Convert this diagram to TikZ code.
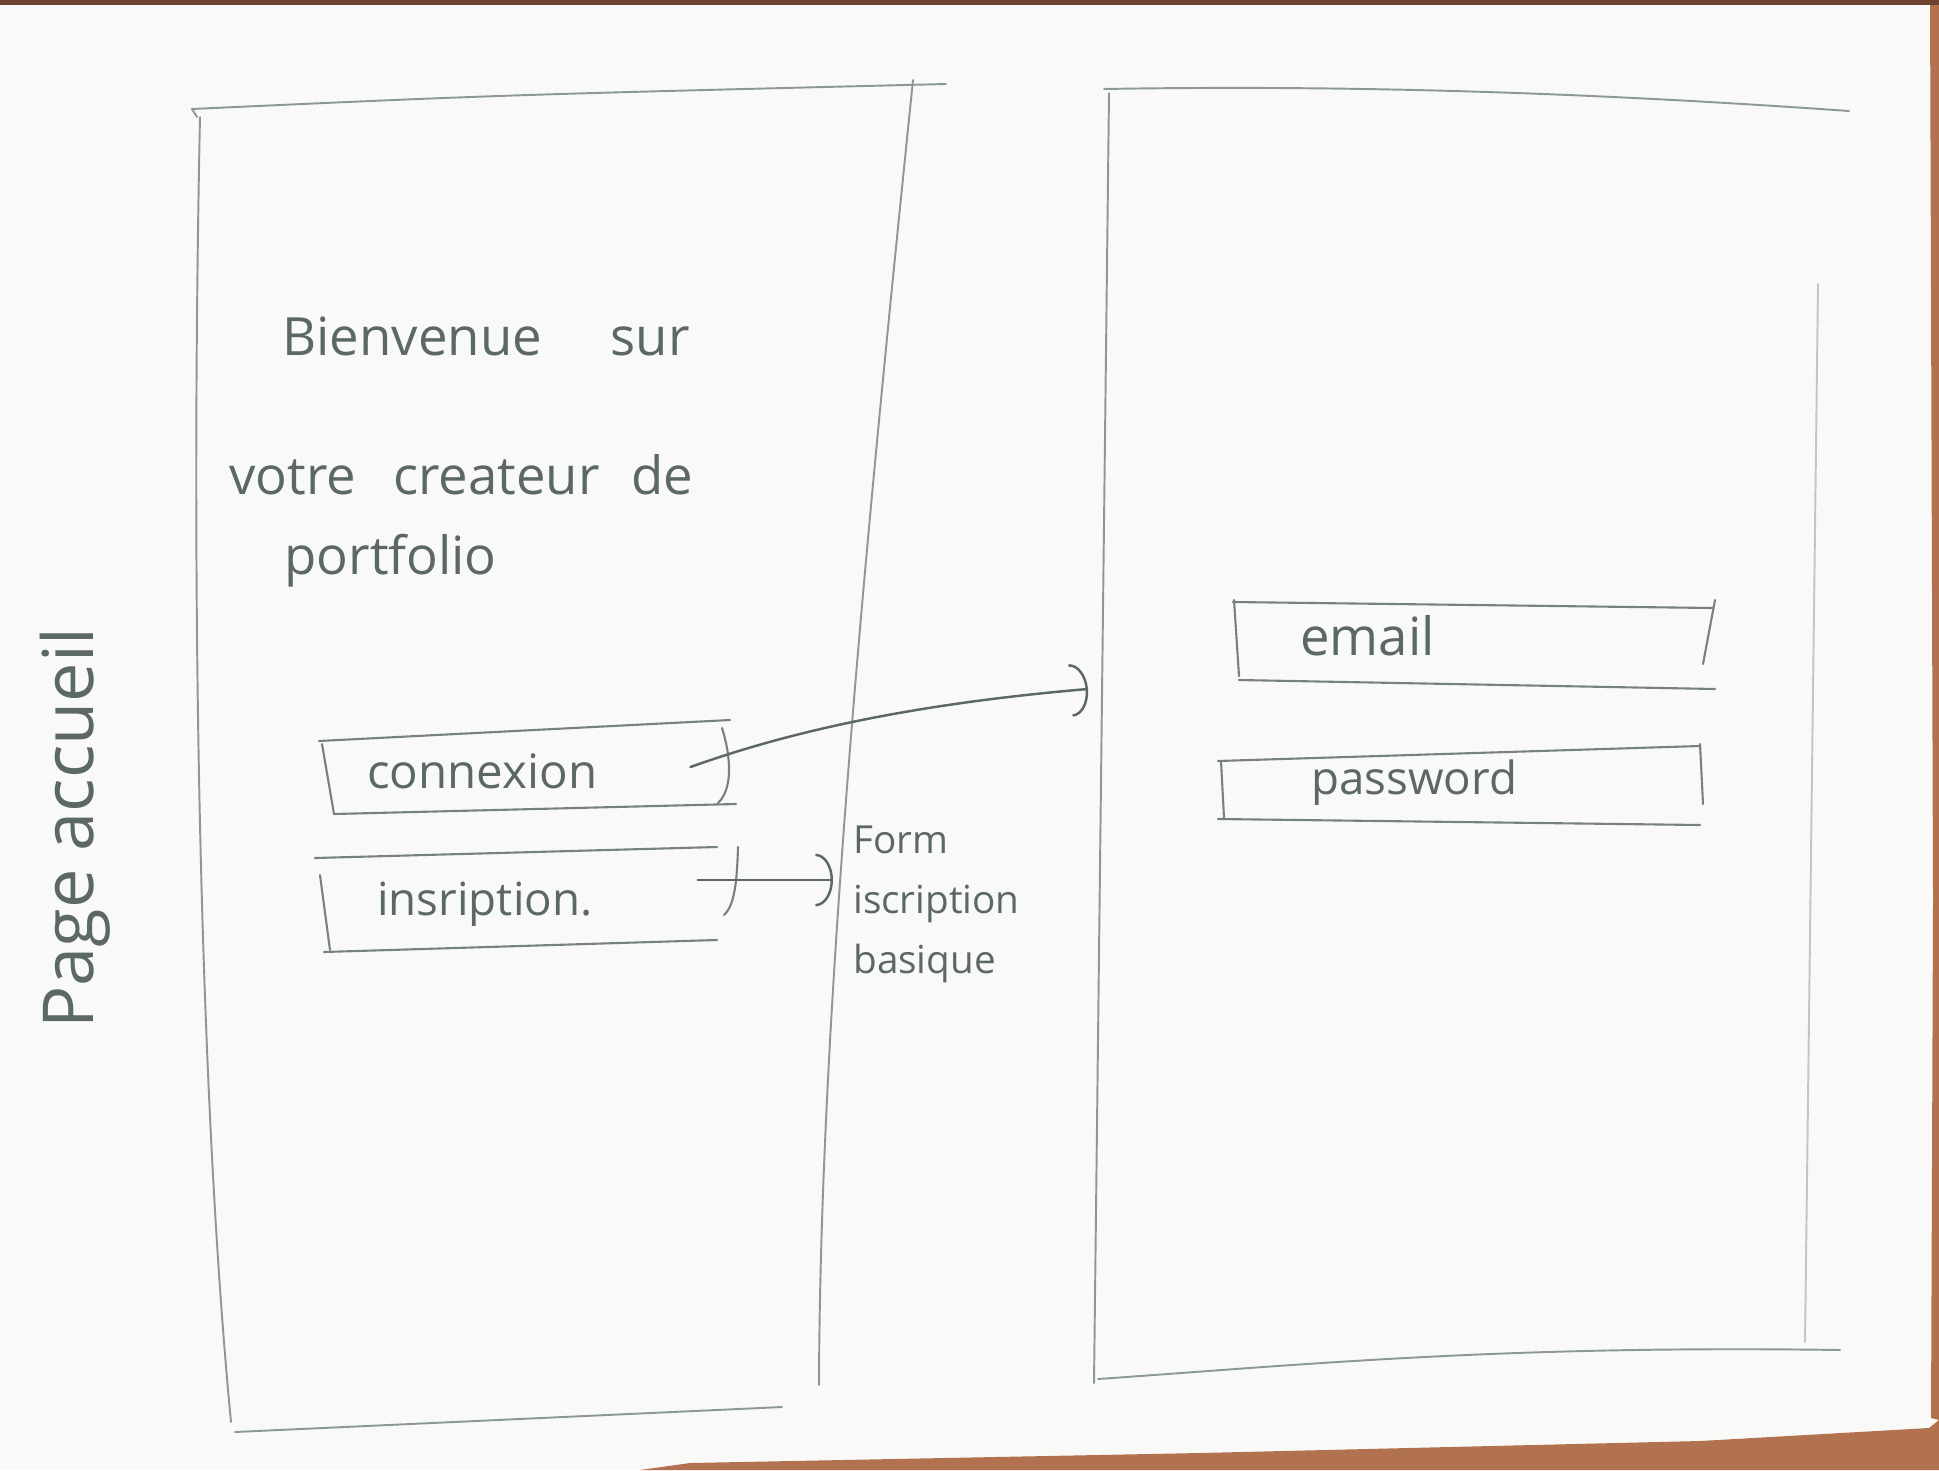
\documentclass[tikz,border=0pt]{standalone}
\usepackage{fontspec}
\setmainfont{Open Sans}
\usetikzlibrary{arrows.meta,calc}
\definecolor{paper}{RGB}{249,250,248}
\definecolor{pencil}{RGB}{140,152,148}
\definecolor{lead}{RGB}{92,104,100}
\definecolor{wood}{RGB}{178,114,80}
\definecolor{wooddark}{RGB}{110,66,48}

\begin{document}
\begin{tikzpicture}[x=0.02cm,y=-0.02cm,
  frame/.style={draw=pencil, line width=1.1pt, line cap=round, line join=round},
  field/.style={draw=pencil!85!black, line width=1.2pt, line cap=round},
  hand/.style={text=lead, inner sep=0pt},
  link/.style={draw=lead, line width=1.4pt, line cap=round,
    -{Arc Barb[length=10pt,width=30pt,line width=1.4pt]}},
]
\useasboundingbox (0,0) rectangle (1939,1470);
\fill[paper] (0,0) rectangle (1939,1470);

% table showing around the sheet
\fill[wood] (640,1470) -- (690,1463) -- (1200,1453) -- (1700,1441) -- (1929,1428)
  -- (1939,1420) -- (1939,1470) -- cycle;
\fill[wood] (1930,0) -- (1939,0) -- (1939,1420) -- (1931,1418) -- (1933,900) -- cycle;
\fill[wooddark] (0,0) rectangle (1939,5);

% ---------- home screen ----------
\draw[frame] (197,117) -- (192,109) .. controls (500,95) .. (946,84);
\draw[frame] (200,117) .. controls (190,600) and (200,1100) .. (231,1422);
\draw[frame] (235,1432) -- (782,1407);
\draw[frame] (913,80) .. controls (870,500) and (820,1000) .. (819,1385);

\node[hand, anchor=base west, font=\fontsize{30}{34}\selectfont] (title1) at (282,355)
  {Bienvenue\hspace{1.3em}sur};
\node[hand, anchor=base west, font=\fontsize{30}{34}\selectfont] (title2) at (229,494)
  {votre\hspace{0.7em}createur\hspace{0.6em}de};
\node[hand, anchor=base west, font=\fontsize{30}{34}\selectfont] (title3) at (284,574)
  {portfolio};

% login button
\draw[field] (319,741) -- (730,720);
\draw[field] (322,744) -- (334,814);
\draw[field] (334,814) -- (736,804);
\draw[field] (722,728) .. controls (732,760) and (732,790) .. (718,803);
\node[hand, anchor=base west, font=\fontsize{27}{30}\selectfont] (cnx) at (367,788) {connexion};

% sign-up button
\draw[field] (315,858) -- (717,847);
\draw[field] (320,875) -- (330,950);
\draw[field] (324,952) -- (717,940);
\draw[field] (738,847) .. controls (737,880) and (735,905) .. (724,915);
\node[hand, anchor=base west, font=\fontsize{26}{30}\selectfont] (insc) at (377,915) {insription.};

% page title, written sideways
\node[hand, rotate=90, font=\fontsize{40}{44}\selectfont] (pagename) at (75,828) {Page accueil};

% ---------- login screen ----------
\draw[frame] (1104,89) .. controls (1400,84) and (1650,97) .. (1849,111);
\draw[frame] (1109,93) -- (1094,1383);
\draw[frame] (1098,1379) .. controls (1300,1365) and (1500,1345) .. (1840,1350);
\draw[frame, draw=pencil!55] (1818,284) -- (1805,1342);

% email field
\draw[field] (1233,602) -- (1713,608);
\draw[field] (1234,600) -- (1239,676);
\draw[field] (1239,680) -- (1715,689);
\draw[field] (1715,600) -- (1703,664);
\node[hand, anchor=base west, font=\fontsize{30}{34}\selectfont] (mail) at (1300,655) {email};

% password field
\draw[field] (1218,761) -- (1700,746);
\draw[field] (1221,761) -- (1224,818);
\draw[field] (1218,819) -- (1700,825);
\draw[field] (1700,744) -- (1703,804);
\node[hand, anchor=base west, font=\fontsize{26}{30}\selectfont] (pwd) at (1311,794) {password};

% sign-up target note
\node[hand, anchor=north west, align=left, font=\fontsize{22}{34}\selectfont] (form) at (853,826)
  {Form\\iscription\\basique};

% ---------- flows ----------
\coordinate (loginedge) at (1088,689);
\draw[link] ($(cnx.base east)+(93,-21)$) .. controls (780,735) and (900,705) .. (loginedge);
\draw[link] ($(insc.base east)+(105,-35)$) -- ($(form.north west)+(-20,54)$);
\end{tikzpicture}
\end{document}
